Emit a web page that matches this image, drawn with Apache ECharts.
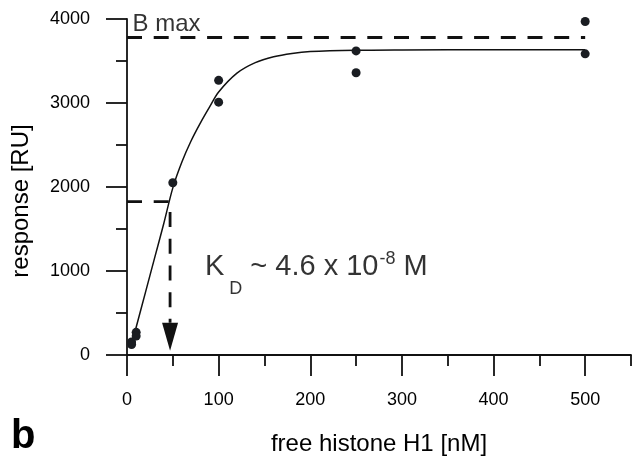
<!DOCTYPE html>
<html><head><meta charset="utf-8">
<script src="https://cdn.jsdelivr.net/npm/echarts@6/dist/echarts.min.js"></script>
<style>html,body{margin:0;padding:0;background:#fff}#c{width:639px;height:457px}</style>
</head><body><div id="c"></div>
<script>
// ---- data ----
const xTicks = [0, 100, 200, 300, 400, 500];
const xMinorTicks = [50, 150, 250, 350, 450, 550];
const pointX = [5, 5, 10, 10, 50, 100, 100, 250, 250, 500, 500];
const pointY = [155, 125, 270, 225, 2050, 3270, 3010, 3620, 3360, 3970, 3585];
const fitX = [5, 10, 20, 30, 40, 50, 60, 70, 80, 90, 100, 120, 140, 160, 180, 200, 250, 300, 400, 500];
const fitY = [130, 330, 740, 1150, 1560, 1990, 2300, 2550, 2760, 2950, 3130, 3355, 3480, 3550, 3590, 3612, 3628, 3632, 3635, 3635];
const bmax = 3780;
const bmaxX = [0, 500];
const kdX = 47;
const kdY = 1825;
const arrowTopY = 385;
const arrowCenterY = 218;
const bmaxText = 'B max';
const bmaxLabelAt = [6, 3780];
const kdLabelAt = [85, 1042];
const xName = 'free histone H1 [nM]';
const yName = 'response [RU]';
const panelLetter = 'b';

const FONT = '"Liberation Sans", Arial, sans-serif';
const INK = '#111';
const TXT = '#000';
const axisLine = { color: INK, width: 1.8 };
const dash = [15, 11.7];

const chart = echarts.init(document.getElementById('c'), null, { renderer: 'canvas' });
chart.setOption({
  animation: false,
  backgroundColor: '#fff',
  textStyle: { fontFamily: FONT, color: TXT },
  grid: { left: 127, right: 8, top: 19, bottom: 102, containLabel: false, outerBoundsMode: 'none' },
  xAxis: [{
    type: 'value', min: 0, max: 550, interval: 50, position: 'bottom',
    axisLine: { show: true, onZero: false, lineStyle: axisLine },
    axisTick: { show: true, length: 11, customValues: xMinorTicks, lineStyle: axisLine },
    axisLabel: { show: true, customValues: xTicks, margin: 36, fontSize: 18, color: TXT, fontFamily: FONT,
      formatter: v => String(v) },
    splitLine: { show: false },
    name: xName, nameLocation: 'middle', nameGap: 77,
    nameTextStyle: { fontSize: 24, color: TXT, fontFamily: FONT }
  }, {
    type: 'value', min: 0, max: 550, interval: 50, position: 'bottom',
    axisLine: { show: false },
    axisTick: { show: true, length: 21, customValues: xTicks, lineStyle: axisLine },
    axisLabel: { show: false },
    splitLine: { show: false }
  }],
  yAxis: {
    type: 'value', min: 0, max: 4000, interval: 1000,
    axisLine: { show: true, onZero: false, lineStyle: axisLine },
    axisTick: { show: true, length: 21, lineStyle: axisLine },
    minorTick: { show: true, splitNumber: 2, length: 11, lineStyle: axisLine },
    axisLabel: { margin: 37, fontSize: 18, color: TXT, fontFamily: FONT, formatter: v => String(v) },
    splitLine: { show: false }, minorSplitLine: { show: false },
    name: yName, nameLocation: 'middle', nameGap: 94,
    nameTextStyle: { fontSize: 24, color: TXT, fontFamily: FONT, padding: [0, 28, 0, 0] }
  },
  graphic: [{
    type: 'text', left: 11, top: 417,
    style: { text: panelLetter, font: 'bold 40px ' + FONT, fill: TXT }
  }],
  series: [
    {
      type: 'line', xAxisIndex: 0, silent: true, showSymbol: false, smooth: 0.3,
      data: fitX.map((x, i) => [x, fitY[i]]),
      lineStyle: { color: INK, width: 1.5 }, z: 3
    },
    {
      type: 'line', xAxisIndex: 0, silent: true, showSymbol: false,
      data: bmaxX.map(x => [x, bmax]),
      lineStyle: { color: INK, width: 2.8, type: dash }, z: 2
    },
    {
      type: 'line', xAxisIndex: 0, silent: true, showSymbol: false,
      data: [[0, kdY], [kdX, kdY], [kdX, arrowTopY]],
      lineStyle: { color: INK, width: 2.8, type: dash }, z: 2
    },
    {
      type: 'scatter', xAxisIndex: 0, silent: true,
      symbol: 'triangle', symbolRotate: 180, symbolSize: [16, 28],
      data: [[kdX, arrowCenterY]],
      itemStyle: { color: INK, opacity: 1 }, z: 4
    },
    {
      type: 'scatter', xAxisIndex: 0, silent: true, symbolSize: 9,
      data: pointX.map((x, i) => [x, pointY[i]]),
      itemStyle: { color: '#1a1d22', opacity: 1 }, z: 5
    },
    {
      type: 'scatter', xAxisIndex: 0, silent: true, symbolSize: 0,
      itemStyle: { color: 'transparent' }, z: 6,
      data: [
        { value: bmaxLabelAt, label: {
          show: true, position: [0, 0], align: 'left', verticalAlign: 'bottom', offset: [0, -1],
          formatter: bmaxText, fontSize: 24, lineHeight: 24, color: TXT, fontFamily: FONT } },
        { value: kdLabelAt, label: {
          show: true, position: [0, 0], align: 'left', verticalAlign: 'middle',
          formatter: '{m|K}{d|D}{m| ~ 4.6 x 10}{s|-8}{m| M}',
          rich: {
            m: { fontSize: 29, lineHeight: 29, color: TXT, fontFamily: FONT, verticalAlign: 'middle' },
            d: { fontSize: 18, lineHeight: 18, color: TXT, fontFamily: FONT, verticalAlign: 'middle', padding: [43, 0, 0, 5] },
            s: { fontSize: 18, lineHeight: 18, color: TXT, fontFamily: FONT, verticalAlign: 'middle', padding: [0, 0, 16, 1] }
          } } }
      ]
    }
  ]
});
</script></body></html>
